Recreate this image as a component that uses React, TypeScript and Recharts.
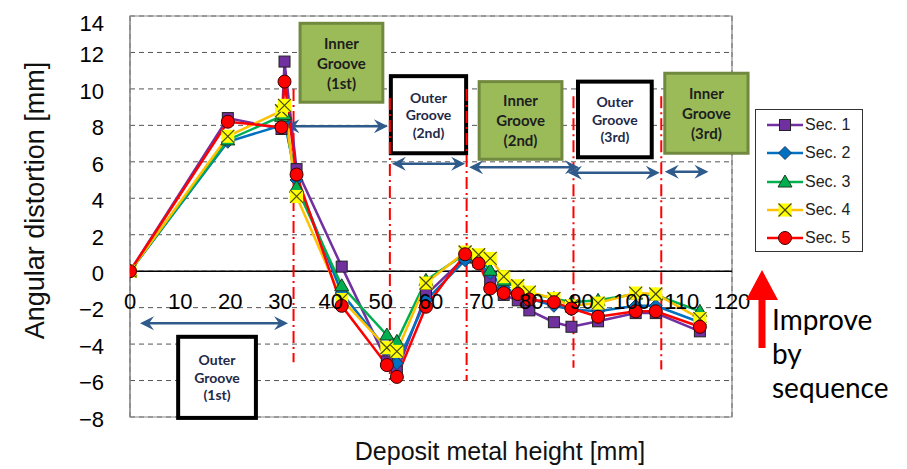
import React from 'react';
import {
  LineChart, Line, XAxis, YAxis, CartesianGrid, ReferenceLine, ReferenceArea, ReferenceDot, Legend,
} from 'recharts';

// ---- data ----
const heights = [0, 19.5, 30.2, 30.8, 33.2, 42.2, 51.2, 53.2, 59.0, 66.8, 69.5, 71.8, 74.5, 77.3, 79.6, 84.5, 88.0, 93.3, 100.8, 104.8, 113.6];
const sec1 = [0, 8.4, 7.8, 11.5, 5.6, 0.25, -4.95, -5.5, -1.3, 0.75, 0.5, -0.5, -1.3, -1.6, -2.15, -2.8, -3.05, -2.75, -2.3, -2.3, -3.3];
const sec2 = [0, 7.1, 8.0, 8.2, 5.0, -1.2, -4.3, -5.05, -1.6, 0.6, 0.4, -0.1, -0.9, -1.2, -1.5, -1.9, -2.1, -2.2, -1.9, -1.9, -2.8];
const sec3 = [0, 7.2, 8.5, 8.6, 4.6, -0.8, -3.5, -3.85, -0.5, 0.95, 0.7, 0.05, -0.5, -0.9, -1.2, -1.5, -1.7, -1.6, -1.25, -1.3, -2.2];
const sec4 = [0, 7.4, 8.8, 9.1, 4.1, -1.55, -4.2, -4.4, -0.65, 1.05, 0.9, 0.7, -0.3, -0.8, -1.15, -1.5, -1.9, -1.75, -1.2, -1.25, -2.6];
const sec5 = [0, 8.2, 7.9, 10.4, 5.3, -1.9, -5.15, -5.8, -1.95, 0.93, 0.42, -0.95, -1.2, -1.25, -1.55, -1.7, -2.05, -2.5, -2.2, -2.2, -3.05];

const seriesKeys = ['s1', 's2', 's3', 's4', 's5'];
const seriesNames = ['Sec. 1', 'Sec. 2', 'Sec. 3', 'Sec. 4', 'Sec. 5'];
const seriesColors = ['#7030A0', '#0070C0', '#00B050', '#FFC000', '#FF0000'];
const seriesMarkers = ['square', 'diamond', 'triangle', 'cross', 'circle'];

const xTicks = [0, 10, 20, 30, 40, 50, 60, 70, 80, 90, 100, 110, 120];
const yTicks = [-8, -6, -4, -2, 0, 2, 4, 6, 8, 10, 12, 14];

// annotations (data units)
const grooveBoxes = [
  { lines: ['Outer', 'Groove', '(1st)'], inner: false, x1: 9.6, x2: 25.1, y1: -8.05, y2: -3.6 },
  { lines: ['Inner', 'Groove', '(1st)'], inner: true, x1: 33.9, x2: 50.4, y1: 9.27, y2: 13.6 },
  { lines: ['Outer', 'Groove', '(2nd)'], inner: false, x1: 52.0, x2: 67.0, y1: 6.47, y2: 10.7 },
  { lines: ['Inner', 'Groove', '(2nd)'], inner: true, x1: 69.6, x2: 86.1, y1: 6.14, y2: 10.4 },
  { lines: ['Outer', 'Groove', '(3rd)'], inner: false, x1: 89.3, x2: 104.0, y1: 6.25, y2: 10.4 },
  { lines: ['Inner', 'Groove', '(3rd)'], inner: true, x1: 106.6, x2: 123.2, y1: 6.47, y2: 10.86 },
];
const arrowSpans = [
  { x1: 2, x2: 31.5, y: -2.85 },
  { x1: 31, x2: 51.4, y: 7.95 },
  { x1: 52.2, x2: 66.8, y: 5.9 },
  { x1: 67.6, x2: 89.5, y: 5.7 },
  { x1: 87.3, x2: 105.6, y: 5.4 },
  { x1: 106.6, x2: 115.3, y: 5.45 },
];
const dividers = [
  { x: 32.6, top: 10, bottom: -5 },
  { x: 51.8, top: 9.5, bottom: -6.2 },
  { x: 67.1, top: 10, bottom: -6 },
  { x: 88.4, top: 9.6, bottom: -5.3 },
  { x: 105.9, top: 9.6, bottom: -5.4 },
];

const data = heights.map((h, i) => ({ h, s1: sec1[i], s2: sec2[i], s3: sec3[i], s4: sec4[i], s5: sec5[i] }));

const FONT = '"Liberation Sans", Arial, sans-serif';
const BOXFONT = 'Lato, "Open Sans", sans-serif';

function Marker({ kind, cx, cy }: { kind: string; cx: number; cy: number }) {
  if (cx == null || cy == null) return null;
  switch (kind) {
    case 'square':
      return <rect x={cx - 5.5} y={cy - 5.5} width={11} height={11} fill="#7030A0" stroke="#222" strokeWidth={1} />;
    case 'diamond':
      return <polygon points={`${cx},${cy - 6.5} ${cx + 6.5},${cy} ${cx},${cy + 6.5} ${cx - 6.5},${cy}`} fill="#0070C0" stroke="#1F3864" strokeWidth={1} />;
    case 'triangle':
      return <polygon points={`${cx},${cy - 7} ${cx + 7},${cy + 5} ${cx - 7},${cy + 5}`} fill="#00B050" stroke="#1d3d1d" strokeWidth={1} />;
    case 'cross':
      return (
        <g>
          <rect x={cx - 6.5} y={cy - 6.5} width={13} height={13} fill="#FFFF00" />
          <line x1={cx - 6.5} y1={cy - 6.5} x2={cx + 6.5} y2={cy + 6.5} stroke="#4a4a10" strokeWidth={1.2} />
          <line x1={cx + 6.5} y1={cy - 6.5} x2={cx - 6.5} y2={cy + 6.5} stroke="#4a4a10" strokeWidth={1.2} />
        </g>
      );
    default:
      return <circle cx={cx} cy={cy} r={6.5} fill="#FF0000" stroke="#3a0000" strokeWidth={1} />;
  }
}

const GrooveBox = (props: any) => {
  const { x, y, width, height, box } = props;
  const inner = box.inner;
  const fs = inner ? 15 : 14;
  const lh = inner ? 20 : 17.5;
  const cx = x + width / 2;
  const cy = y + height / 2;
  return (
    <g>
      <rect x={x} y={y} width={width} height={height}
        fill={inner ? '#9BBB59' : '#FFFFFF'}
        stroke={inner ? '#71893F' : '#000000'}
        strokeWidth={inner ? 3 : 4} />
      {box.lines.map((t: string, i: number) => (
        <text key={i} x={cx} y={cy + (i - 1) * lh} textAnchor="middle" dominantBaseline="central"
          fontFamily={BOXFONT} fontWeight={700} fontSize={fs} fill={inner ? '#1e1e1e' : '#1F2A48'}>
          {t}
        </text>
      ))}
    </g>
  );
};

const ArrowShape = (p: any) => {
  const { x1, y1, x2, y2 } = p;
  const dx = x2 - x1, dy = y2 - y1;
  const len = Math.hypot(dx, dy) || 1;
  const ux = dx / len, uy = dy / len;
  const nx = -uy, ny = ux;
  const L = 14, W = 7, N = 5;
  const color = '#2F5A8C';
  const head = (tx: number, ty: number, dx1: number, dy1: number) => {
    const bx = tx - dx1 * L, by = ty - dy1 * L;
    const mx = tx - dx1 * (L - N), my = ty - dy1 * (L - N);
    return `M${tx},${ty} L${bx + nx * W},${by + ny * W} L${mx},${my} L${bx - nx * W},${by - ny * W} Z`;
  };
  return (
    <g>
      <line x1={x1 + ux * 6} y1={y1 + uy * 6} x2={x2 - ux * 6} y2={y2 - uy * 6} stroke={color} strokeWidth={2.5} />
      <path d={head(x2, y2, ux, uy)} fill={color} />
      <path d={head(x1, y1, -ux, -uy)} fill={color} />
    </g>
  );
};

const LegendBox = () => (
  <div style={{ width: 108, height: 143, border: '1.5px solid #333', background: '#fff', boxSizing: 'border-box', position: 'relative' }}>
    {seriesNames.map((n, i) => (
      <div key={n} style={{ position: 'absolute', left: 0, top: 15 + i * 28.3 - 10, height: 20, width: 106 }}>
        <svg width={48} height={20} style={{ position: 'absolute', left: 0, top: 0 }}>
          <line x1={11} y1={10} x2={47} y2={10} stroke={seriesColors[i]} strokeWidth={2.5} />
          <Marker kind={seriesMarkers[i]} cx={29} cy={10} />
        </svg>
        <span style={{ position: 'absolute', left: 49, top: 0, lineHeight: '20px', fontFamily: FONT, fontSize: 16, color: '#222' }}>{n}</span>
      </div>
    ))}
  </div>
);

const YLabel = (props: any) => {
  const vb = props.viewBox || {};
  const x = 27;
  const y = vb.y + vb.height / 2 - 16;
  return (
    <text x={x} y={y} transform={`rotate(-90, ${x}, ${y})`} textAnchor="middle" dominantBaseline="central"
      fontFamily={FONT} fontSize={27} fill="#111">
      Angular distortion [mm]
    </text>
  );
};

const XLabel = (props: any) => {
  const vb = props.viewBox || {};
  const x = vb.x + vb.width / 2 + 69;
  const y = vb.y + 43;
  return (
    <text x={x} y={y} textAnchor="middle" fontFamily={FONT} fontSize={25} fill="#111">
      Deposit metal height [mm]
    </text>
  );
};

const fmt = (v: number) => (v < 0 ? `\u2212${-v}` : `${v}`);

export default function App() {
  return (
    <div style={{ position: 'relative', width: 891, height: 461 }}>
      <LineChart width={891} height={461} data={data} margin={{ top: 8, right: 167, bottom: 51, left: 0 }}>
        <CartesianGrid stroke="#555" strokeDasharray="5 4" strokeWidth={1} />
        <XAxis type="number" dataKey="h" domain={[0, 120]} ticks={xTicks} tick={false} axisLine={false}
          tickLine={false} height={1} label={<XLabel />} allowDataOverflow />
        <YAxis type="number" domain={[-8, 14]} ticks={yTicks} width={122} tickSize={0} tickMargin={26}
          tickLine={false} axisLine={{ stroke: '#888' }} tickFormatter={fmt}
          tick={{ fontSize: 22, fill: '#000', fontFamily: FONT, dy: 2 }} label={<YLabel />} allowDataOverflow />
        <ReferenceArea x1={0} x2={120} y1={-8} y2={14} fill="none" fillOpacity={0} stroke="#888" strokeWidth={1.2} />
        <ReferenceLine y={0} stroke="#000" strokeWidth={1.6} />
        {dividers.map((d, i) => (
          <ReferenceLine key={`d${i}`} segment={[{ x: d.x, y: d.top }, { x: d.x, y: d.bottom }]}
            stroke="#FF0000" strokeWidth={2} strokeDasharray="12 4 2 4" ifOverflow="visible" />
        ))}
        {grooveBoxes.map((b, i) => (
          <ReferenceArea key={`b${i}`} x1={b.x1} x2={b.x2} y1={b.y1} y2={b.y2} ifOverflow="visible"
            shape={(p: any) => <GrooveBox {...p} box={b} />} />
        ))}
        {arrowSpans.map((a, i) => (
          <ReferenceLine key={`a${i}`} segment={[{ x: a.x1, y: a.y }, { x: a.x2, y: a.y }]} ifOverflow="visible"
            shape={ArrowShape} />
        ))}
        {xTicks.map((t) => (
          <ReferenceDot key={`t${t}`} x={t} y={0} r={0} fill="none" stroke="none" ifOverflow="visible"
            label={{ value: t, position: 'bottom', offset: 22, fontSize: 22, fill: '#000', fontFamily: FONT }} />
        ))}
        {seriesKeys.map((k, i) => (
          <Line key={k} dataKey={k} name={seriesNames[i]} stroke={seriesColors[i]} strokeWidth={2.5}
            isAnimationActive={false} activeDot={false}
            dot={(p: any) => <Marker key={`${k}-${p.index}`} kind={seriesMarkers[i]} cx={p.cx} cy={p.cy} />} />
        ))}
        <Legend layout="vertical" align="center" verticalAlign="middle" content={() => <LegendBox />}
          wrapperStyle={{ position: 'absolute', left: 747, top: 101, width: 108, height: 143 }} />
      </LineChart>
      <svg width={36} height={84} style={{ position: 'absolute', left: 736, top: 258 }}>
        <path d="M18,4 L34,34 L21.5,34 L21.5,82 L14.5,82 L14.5,34 L2,34 Z" fill="#FF0000" />
      </svg>
      {['Improve', 'by', 'sequence'].map((t, i) => (
        <div key={t} style={{ position: 'absolute', left: 764, top: 294 + i * 34, fontFamily: BOXFONT, fontSize: 28, lineHeight: '34px', color: '#000', whiteSpace: 'nowrap' }}>
          {t}
        </div>
      ))}
    </div>
  );
}
